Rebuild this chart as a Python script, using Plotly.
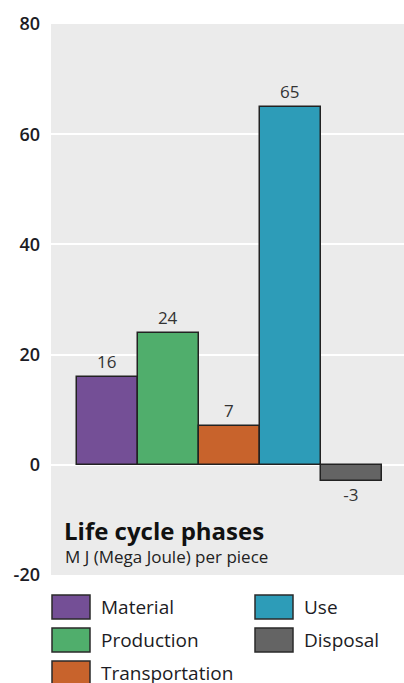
import plotly.graph_objects as go

# ---- data ----
categories = ["Material", "Production", "Transportation", "Use", "Disposal"]
values = [16, 24, 7, 65, -3]
colors = ["#744f96", "#50ae6c", "#c8632c", "#2d9cb8", "#646464"]
y_ticks = [-20, 0, 20, 40, 60, 80]
y_tick_labels = ["-20", "0", "20", "40", "60", "80"]
title_text = "Life cycle phases"
subtitle_text = "M J (Mega Joule) per piece"

W, H = 404, 683
L, R, T, B = 51, 0, 24, 108
PW, PH = W - L - R, H - T - B
FONT = "Open Sans"
TXT = "#1c1c24"

def px_x(X):
    return (X - L) / PW

def px_y(Y):
    return (H - B - Y) / PH

fig = go.Figure()
for cat, val, col in zip(categories, values, colors):
    fig.add_trace(go.Bar(
        x=[cat], y=[val], name=cat, width=1,
        marker=dict(color=col, line=dict(color="#222222", width=1.5)),
        text=[str(val)], textposition="outside",
        textfont=dict(family=FONT, size=17, color="#333333"),
        cliponaxis=False, showlegend=False, hoverinfo="skip",
    ))

# legend drawn manually (large swatches)
shapes = []
annotations = []
legend_pos = [(52, 595), (52, 628), (52, 661), (255, 595), (255, 628)]
for (cat, col), (sx, sy) in zip(zip(categories, colors), legend_pos):
    shapes.append(dict(type="rect", xref="paper", yref="paper",
                       x0=px_x(sx), x1=px_x(sx + 38), y0=px_y(sy + 24), y1=px_y(sy),
                       fillcolor=col, line=dict(color="#2a2a2a", width=1.5)))
    annotations.append(dict(xref="paper", yref="paper", x=px_x(sx + 47), y=px_y(sy + 12),
                            text=cat, showarrow=False, xanchor="left", yanchor="middle",
                            font=dict(family=FONT, size=19, color=TXT)))

annotations.append(dict(xref="paper", yref="paper", x=px_x(62), y=px_y(530),
                        text="<b>" + title_text + "</b>", showarrow=False,
                        xanchor="left", yanchor="middle",
                        font=dict(family=FONT, size=24, color="#111111")))
annotations.append(dict(xref="paper", yref="paper", x=px_x(63), y=px_y(556),
                        text=subtitle_text, showarrow=False,
                        xanchor="left", yanchor="middle",
                        font=dict(family=FONT, size=17, color="#222222")))

fig.update_layout(
    width=W, height=H,
    margin=dict(l=L, r=R, t=T, b=B, pad=0, autoexpand=False),
    paper_bgcolor="white", plot_bgcolor="#ebebeb",
    barmode="overlay", bargap=0,
    showlegend=False, hovermode=False,
    shapes=shapes, annotations=annotations,
    font=dict(family=FONT),
)
fig.update_xaxes(range=[-0.926, 4.86], showticklabels=False, showgrid=False,
                 zeroline=False, showline=False, ticks="", automargin=False)
fig.update_yaxes(range=[-20, 80], tickvals=y_ticks, ticktext=y_tick_labels, showgrid=True,
                 gridcolor="white", gridwidth=2, zeroline=False, showline=False,
                 ticks="", ticklabelstandoff=10, automargin=False,
                 tickfont=dict(family=FONT, size=18, color=TXT, weight=600))

fig.write_html("out.html", config={"displayModeBar": False},
               post_script="document.body.style.margin='0';document.body.style.overflow='hidden';")
